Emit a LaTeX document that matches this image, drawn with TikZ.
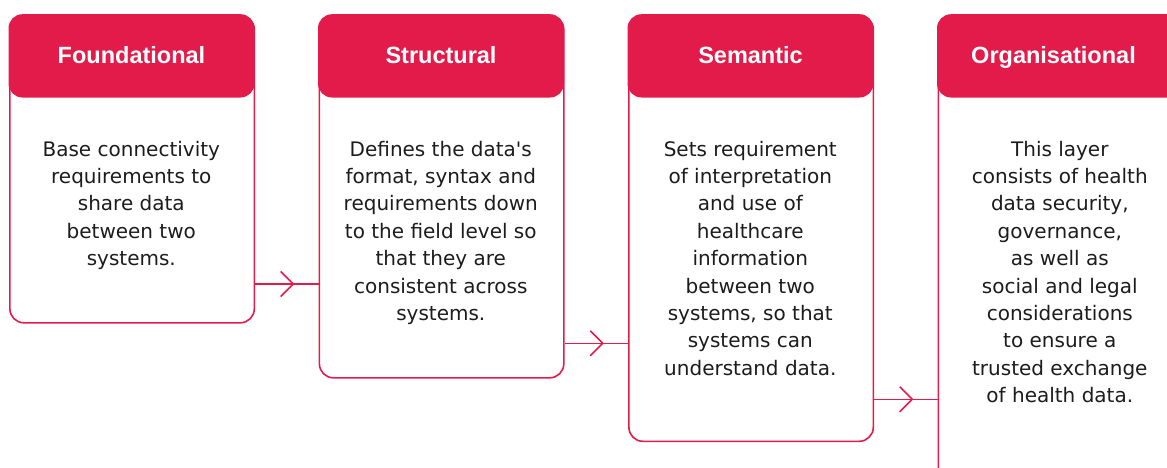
\documentclass[tikz,border=0pt]{standalone}
\usepackage{fontspec}
\setmainfont{DejaVu Sans}
\newfontfamily\headfont{Liberation Sans}
\usetikzlibrary{decorations.markings}
\definecolor{brand}{HTML}{E31B4A}
\definecolor{ink}{HTML}{1C1C1C}
\tikzset{
  card/.style={draw=brand, line width=1.6pt, rounded corners=14pt, inner sep=0pt,
    minimum width=244.4pt, anchor=north west},
  head/.style={fill=brand, rounded corners=14pt, inner sep=0pt, minimum width=246pt,
    minimum height=83.3pt, anchor=north west, text=white,
    text height=20pt, text depth=5.6pt,
    font=\headfont\bfseries\fontsize{23.5}{26}\selectfont},
  body/.style={align=center, inner sep=0pt, anchor=north, text=ink,
    font=\fontsize{20}{27.4}\selectfont},
  conn/.style={draw=brand, line width=1.6pt, postaction={decorate},
    decoration={markings, mark=at position #1 with {
      \draw[brand, line width=1.6pt] (-12.5pt,-12.5pt) -- (0,0) -- (-12.5pt,12.5pt);}}},
  conn/.default=0.6
}
\begin{document}
\begin{tikzpicture}[x=1pt,y=-1pt]
\useasboundingbox (0,0) rectangle (1167,467);
\clip (0,0) rectangle (1167,467);

% outlines
\node[card, minimum height=307.2pt] (c1) at (9.1,14.8) {};
\node[card, minimum height=362.2pt] (c2) at (318.6,14.8) {};
\node[card, minimum height=425.7pt] (c3) at (628.1,14.8) {};
\node[card, minimum height=467.2pt] (c4) at (937.6,14.8) {};

% headers
\node[head] (h1) at (8.3,14) {Foundational};
\node[head] (h2) at (317.8,14) {Structural};
\node[head] (h3) at (627.3,14) {Semantic};
\node[head] (h4) at (936.8,14) {Organisational\hspace*{13pt}};

% body texts
\node[body] (t1) at (131.3,136.8) {\strut Base connectivity\\requirements to\\share data\\between two\\systems.};
\node[body] (t2) at (440.8,136.8) {\strut Defines the data\textquotesingle s\\format, syntax and\\requirements down\\to the field level so\\that they are\\consistent across\\systems.};
\node[body] (t3) at (750.3,136.8) {\strut Sets requirement\\of interpretation\\and use of\\healthcare\\information\\between two\\systems, so that\\systems can\\understand data.};
\node[body] (t4) at (1059.8,136.8) {\strut This layer\\consists of health\\data security,\\governance,\\as well as\\social and legal\\considerations\\to ensure a\\trusted exchange\\of health data.};

% connectors
\coordinate (y1) at (0,284);
\coordinate (y2) at (0,343.3);
\coordinate (y3) at (0,399.3);
\draw[conn] (c1.east |- y1) -- (c2.west |- y1);
\draw[conn] (c2.east |- y2) -- (c3.west |- y2);
\draw[conn] (c3.east |- y3) -- (c4.west |- y3);
\end{tikzpicture}
\end{document}
